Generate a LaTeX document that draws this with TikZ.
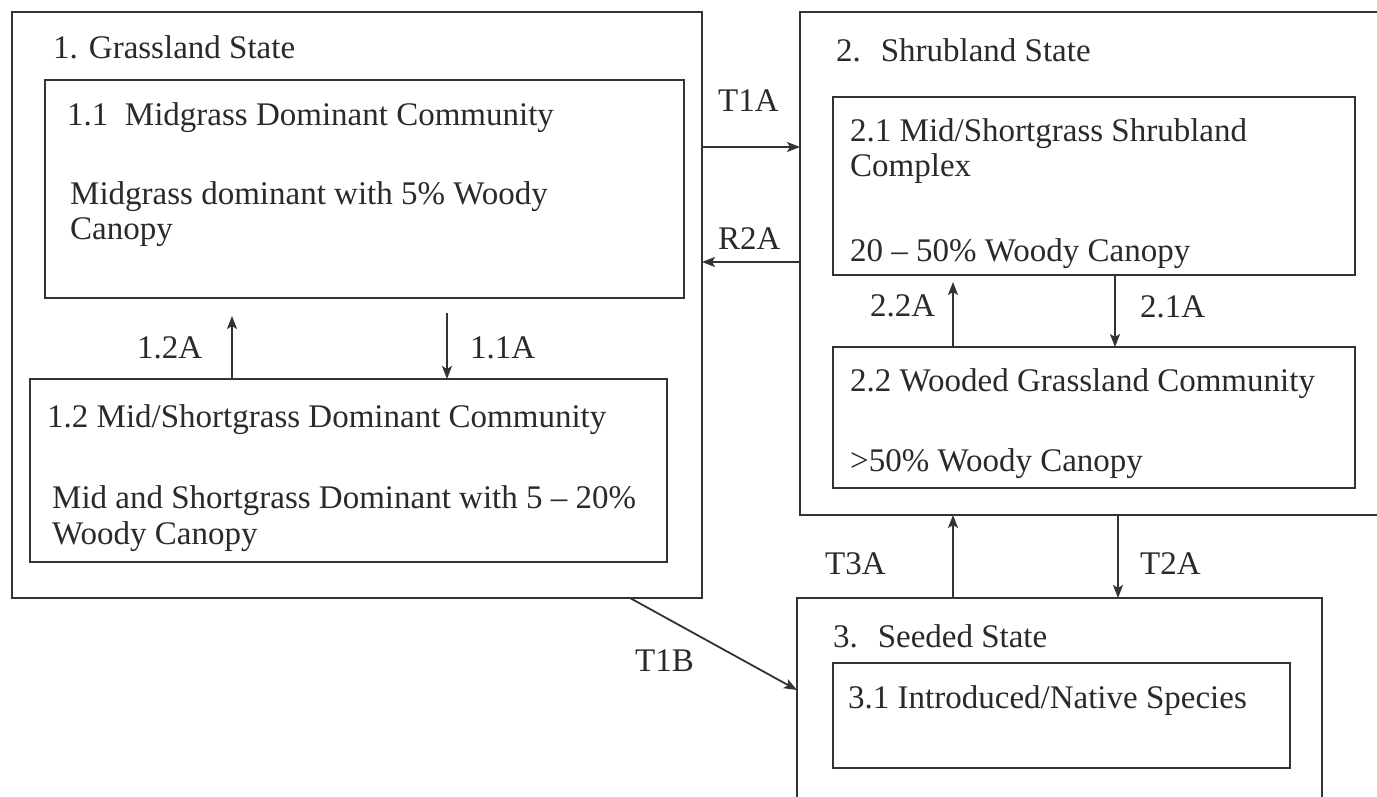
\documentclass[tikz,border=0pt]{standalone}
\usepackage{fontspec}
\setmainfont{Liberation Serif}
\usetikzlibrary{arrows.meta}
\definecolor{linec}{HTML}{333333}
\definecolor{textc}{HTML}{2A2A2A}
\begin{document}
\begin{tikzpicture}[x=1pt,y=-1pt,
  box/.style={draw=linec, line width=2.2pt, anchor=north west, inner sep=0pt, outer sep=0pt},
  lbl/.style={anchor=base west, inner sep=0pt, text=textc, font=\fontsize{33}{37}\selectfont},
  arr/.style={draw=linec, line width=1.8pt, -{Stealth[length=13pt,width=10pt,inset=3pt]}}]
\useasboundingbox[fill=white] (0,0) rectangle (1377,796);
% boxes
\node[box, minimum width=690pt, minimum height=586pt] (G) at (12,12) {};
\node[box, minimum width=639pt, minimum height=218pt] (B11) at (45,80) {};
\node[box, minimum width=637pt, minimum height=183pt] (B12) at (30,379) {};
\node[box, minimum width=600pt, minimum height=503pt] (S) at (800,12) {};
\node[box, minimum width=522pt, minimum height=178pt] (B21) at (833,97) {};
\node[box, minimum width=522pt, minimum height=141pt] (B22) at (833,347) {};
\node[box, minimum width=525pt, minimum height=220pt] (D) at (797,598) {};
\node[box, minimum width=457pt, minimum height=105pt] (B31) at (833,663) {};
% texts
\node[lbl] (tG) at (53,58) {1. Grassland State};
\node[lbl] (t11) at (67,125) {1.1\hspace{0.5em}Midgrass Dominant Community};
\node[lbl] (t11a) at (70,204) {Midgrass dominant with 5\% Woody};
\node[lbl] (t11b) at (70,239) {Canopy};
\node[lbl] (t12) at (47,427) {1.2 Mid/Shortgrass Dominant Community};
\node[lbl] (t12a) at (52,508) {Mid and Shortgrass Dominant with 5 – 20\%};
\node[lbl] (t12b) at (52,544) {Woody Canopy};
\node[lbl] (tS) at (836,61) {2.\hspace{0.6em}Shrubland State};
\node[lbl] (t21) at (850,141) {2.1 Mid/Shortgrass Shrubland};
\node[lbl] (t21a) at (850,176) {Complex};
\node[lbl] (t21b) at (850,261) {20 – 50\% Woody Canopy};
\node[lbl] (t22) at (850,391) {2.2 Wooded Grassland Community};
\node[lbl] (t22a) at (850,471) {>50\% Woody Canopy};
\node[lbl] (tD) at (833,647) {3.\hspace{0.6em}Seeded State};
\node[lbl] (t31) at (848,708) {3.1 Introduced/Native Species};
% arrow labels
\node[lbl] (l12A) at (137,358) {1.2A};
\node[lbl] (l11A) at (470,358) {1.1A};
\node[lbl] (lT1A) at (718,111) {T1A};
\node[lbl] (lR2A) at (718,249) {R2A};
\node[lbl] (l22A) at (870,316) {2.2A};
\node[lbl] (l21A) at (1140,317) {2.1A};
\node[lbl] (lT3A) at (825,574) {T3A};
\node[lbl] (lT2A) at (1140,574) {T2A};
\node[lbl] (lT1B) at (635,671) {T1B};
% free ends
\coordinate (e12A) at (232,316);
\coordinate (s11A) at (447,313);
\coordinate (e22A) at (953,282);
% arrows
\draw[arr] (B12.north -| e12A) -- (e12A);
\draw[arr] (s11A) -- (B12.north -| s11A);
\draw[arr] (G.east |- 0,147) -- (S.west |- 0,147);
\draw[arr] (S.west |- 0,262) -- (G.east |- 0,262);
\draw[arr] (B22.north -| e22A) -- (e22A);
\draw[arr] (B21.south -| 1115,0) -- (B22.north -| 1115,0);
\draw[arr] (D.north -| 953,0) -- (S.south -| 953,0);
\draw[arr] (S.south -| 1118,0) -- (D.north -| 1118,0);
\draw[arr] (G.south -| 630,0) -- (D.west |- 0,690);
\end{tikzpicture}
\end{document}
